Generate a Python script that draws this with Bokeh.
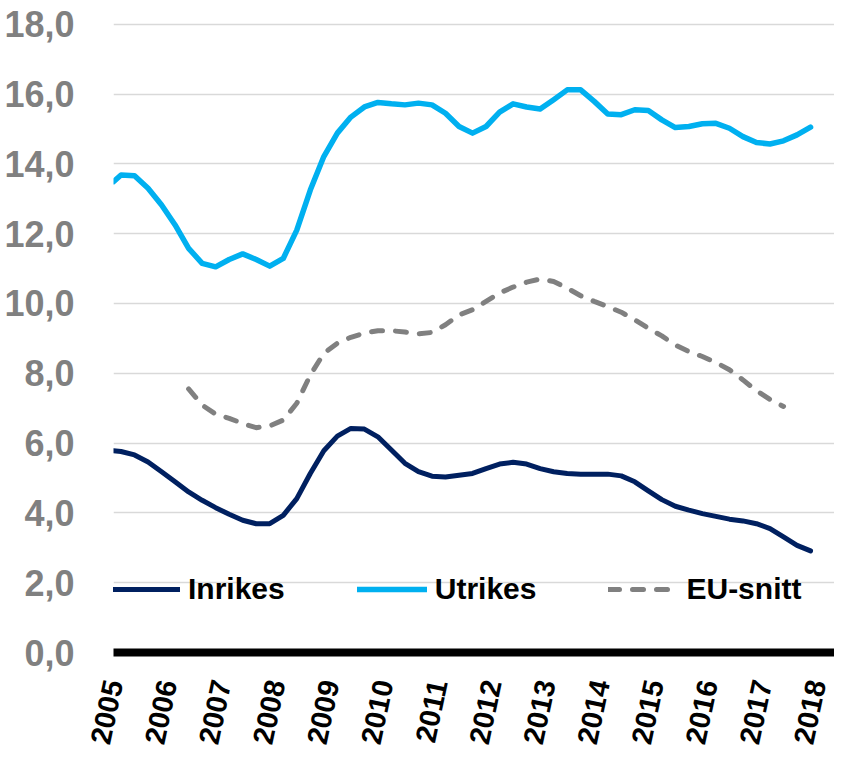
import math
from bokeh.plotting import figure
from bokeh.models import Range1d, FixedTicker, Legend, LegendItem
from bokeh.embed import file_html
from bokeh.resources import INLINE

# ---- data ----
years = list(range(2005, 2019))
year_labels = [str(y) for y in years]
y_ticks = [0, 2, 4, 6, 8, 10, 12, 14, 16, 18]
y_tick_labels = ["0,0", "2,0", "4,0", "6,0", "8,0", "10,0", "12,0", "14,0", "16,0", "18,0"]

# observation dates as fractional years (first point Jan 2005, then quarterly)
dates = [2005.0] + [2005.139 + 0.25 * k for k in range(52)]

utrikes = [13.49, 13.68, 13.66, 13.30, 12.82, 12.25, 11.58, 11.15, 11.05, 11.26,
           11.42, 11.26, 11.07, 11.29, 12.10, 13.25, 14.21, 14.88, 15.34, 15.63,
           15.76, 15.72, 15.69, 15.74, 15.69, 15.45, 15.07, 14.88, 15.07, 15.48,
           15.72, 15.63, 15.57, 15.84, 16.12, 16.12, 15.79, 15.43, 15.41, 15.55,
           15.53, 15.26, 15.04, 15.07, 15.15, 15.16, 15.02, 14.78, 14.61, 14.57,
           14.66, 14.83, 15.05]

inrikes = [5.78, 5.76, 5.66, 5.46, 5.18, 4.89, 4.60, 4.36, 4.15, 3.96,
           3.79, 3.69, 3.69, 3.93, 4.41, 5.13, 5.78, 6.20, 6.42, 6.40,
           6.18, 5.80, 5.42, 5.18, 5.05, 5.03, 5.08, 5.13, 5.27, 5.40,
           5.45, 5.40, 5.27, 5.18, 5.13, 5.11, 5.11, 5.11, 5.06, 4.89,
           4.63, 4.38, 4.19, 4.08, 3.98, 3.90, 3.82, 3.77, 3.69, 3.55,
           3.31, 3.07, 2.91]

nan = float("nan")
eu_snitt = [nan, nan, nan, nan, nan, nan,
            7.55, 7.09, 6.83, 6.71, 6.56, 6.44, 6.49, 6.66, 7.14, 7.95,
            8.57, 8.86, 9.03, 9.15, 9.22, 9.22, 9.18, 9.13, 9.17, 9.39,
            9.67, 9.82, 10.06, 10.30, 10.47, 10.61, 10.70, 10.63, 10.44, 10.22,
            10.06, 9.91, 9.75, 9.53, 9.29, 9.07, 8.81, 8.62, 8.48, 8.31,
            8.10, 7.81, 7.50, 7.25, 7.05, nan, nan]

# ---- figure ----
FONT = "Liberation Sans"
p = figure(width=834, height=751, output_backend="svg", toolbar_location=None,
           x_range=Range1d(2005, 2018.332), y_range=Range1d(0, 18.05),
           min_border_left=113, min_border_right=0, min_border_top=22,
           min_border_bottom=99)
p.outline_line_color = None
p.background_fill_color = "white"
p.border_fill_color = "white"

r_in = p.line(dates, inrikes, line_color="#002060", line_width=5,
              line_join="round", line_cap="round")
r_ut = p.line(dates, utrikes, line_color="#00B0F0", line_width=5.5,
              line_join="round", line_cap="round")
r_eu = p.line(dates, eu_snitt, line_color="#808080", line_width=5,
              line_dash="11 13", line_join="round", line_cap="round")

# grid
p.xgrid.grid_line_color = None
p.ygrid.ticker = FixedTicker(ticks=y_ticks[1:])
p.ygrid.grid_line_color = "#D9D9D9"
p.ygrid.grid_line_width = 1.5

# y axis
p.yaxis.ticker = FixedTicker(ticks=y_ticks)
p.yaxis.major_label_overrides = dict(zip(y_ticks, y_tick_labels))
p.yaxis.axis_line_color = None
p.yaxis.major_tick_line_color = None
p.yaxis.minor_tick_line_color = None
p.yaxis.major_label_standoff = 33
p.yaxis.major_label_text_font = FONT
p.yaxis.major_label_text_font_style = "bold"
p.yaxis.major_label_text_font_size = "36px"
p.yaxis.major_label_text_color = "#808080"

# x axis
p.xaxis.ticker = FixedTicker(ticks=years)
p.xaxis.major_label_overrides = dict(zip(years, year_labels))
p.xaxis.axis_line_color = "black"
p.xaxis.axis_line_width = 8
p.xaxis.major_tick_line_color = None
p.xaxis.minor_tick_line_color = None
p.xaxis.major_label_orientation = math.radians(78)
p.xaxis.major_label_standoff = 22
p.xaxis.major_label_text_font = FONT
p.xaxis.major_label_text_font_style = "bold"
p.xaxis.major_label_text_font_size = "29px"
p.xaxis.major_label_text_color = "black"

legend = Legend(items=[LegendItem(label="Inrikes", renderers=[r_in]),
                       LegendItem(label="Utrikes", renderers=[r_ut]),
                       LegendItem(label="EU-snitt", renderers=[r_eu])],
                orientation="horizontal", location=(-3, 46),
                glyph_width=70, glyph_height=30, label_height=30,
                label_standoff=8, spacing=72, padding=0, margin=0,
                label_text_font=FONT, label_text_font_style="bold",
                label_text_font_size="30px", label_text_color="black",
                background_fill_alpha=0, border_line_color=None)
p.add_layout(legend, "center")

open("out.html", "w").write(file_html(p, INLINE))
